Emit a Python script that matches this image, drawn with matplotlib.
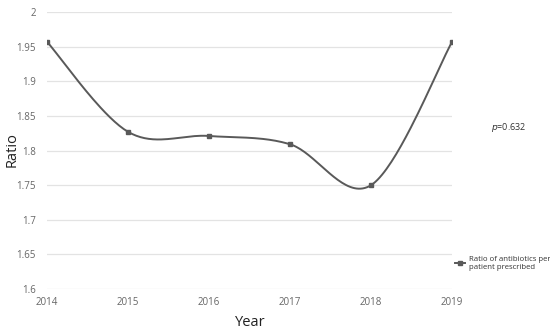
import numpy as np
import matplotlib
matplotlib.use("Agg")
import matplotlib.pyplot as plt

years = [2014, 2015, 2016, 2017, 2018, 2019]
ratio = [1.957, 1.827, 1.821, 1.809, 1.750, 1.957]
y_ticks = [1.6, 1.65, 1.7, 1.75, 1.8, 1.85, 1.9, 1.95, 2.0]
y_tick_labels = ["1.6", "1.65", "1.7", "1.75", "1.8", "1.85", "1.9", "1.95", "2"]
series_label = "Ratio of antibiotics per\npatient prescribed"

def smooth(xs, ys, n=40):
    x = np.asarray(xs, float); y = np.asarray(ys, float)
    px = np.concatenate([[x[0]], x, [x[-1]]])
    py = np.concatenate([[y[0]], y, [y[-1]]])
    ox, oy = [], []
    t = np.linspace(0, 1, n)
    for i in range(1, len(px) - 2):
        p0 = np.array([px[i], py[i]]); p3 = np.array([px[i+1], py[i+1]])
        c1 = p0 + (np.array([px[i+1], py[i+1]]) - np.array([px[i-1], py[i-1]])) / 6
        c2 = p3 - (np.array([px[i+2], py[i+2]]) - np.array([px[i], py[i]])) / 6
        b = ((1-t)**3)[:, None]*p0 + (3*(1-t)**2*t)[:, None]*c1 + (3*(1-t)*t**2)[:, None]*c2 + (t**3)[:, None]*p3
        ox.extend(b[:, 0]); oy.extend(b[:, 1])
    return np.array(ox), np.array(oy)

plt.rcParams['font.family'] = ['Open Sans', 'DejaVu Sans']
fig = plt.figure(figsize=(5.5, 3.33), dpi=100)
ax = fig.add_axes([0.0855, 0.132, 0.7365, 0.832])

sx, sy = smooth(years, ratio)
col = "#595959"
ax.plot(sx, sy, color=col, lw=1.4, zorder=3)
ax.plot(years, ratio, ls="none", marker="s", ms=3, color=col, zorder=4)
ax.plot([], [], color=col, lw=1.4, marker="s", ms=3, label=series_label)

ax.set_xlim(2014, 2019)
ax.set_ylim(1.6, 2.0)
ax.set_yticks(y_ticks)
ax.set_yticklabels(y_tick_labels)
ax.set_xticks(years)
ax.grid(axis="y", color="#e3e3e3", lw=0.9)
ax.set_axisbelow(True)
for s in ax.spines.values():
    s.set_visible(False)
ax.tick_params(length=0, labelsize=7, colors="#666666")
ax.tick_params(axis="x", pad=6)
ax.tick_params(axis="y", pad=8)

fig.text(0.455, 0.033, "Year", fontsize=10.5, color="#222222", ha="center", va="center")
fig.text(0.022, 0.55, "Ratio", fontsize=10.5, color="#222222", ha="center", va="center", rotation=90)

fig.text(0.893, 0.617, r"$p$=0.632", fontsize=6.5, color="#333333", ha="left", va="center")
leg = fig.legend(loc="center left", bbox_to_anchor=(0.825, 0.21), frameon=False,
                 fontsize=5.6, handlelength=1.2, handletextpad=0.5, labelcolor="#333333",
                 borderaxespad=0, borderpad=0.2)

fig.savefig("out.png", dpi=100)
